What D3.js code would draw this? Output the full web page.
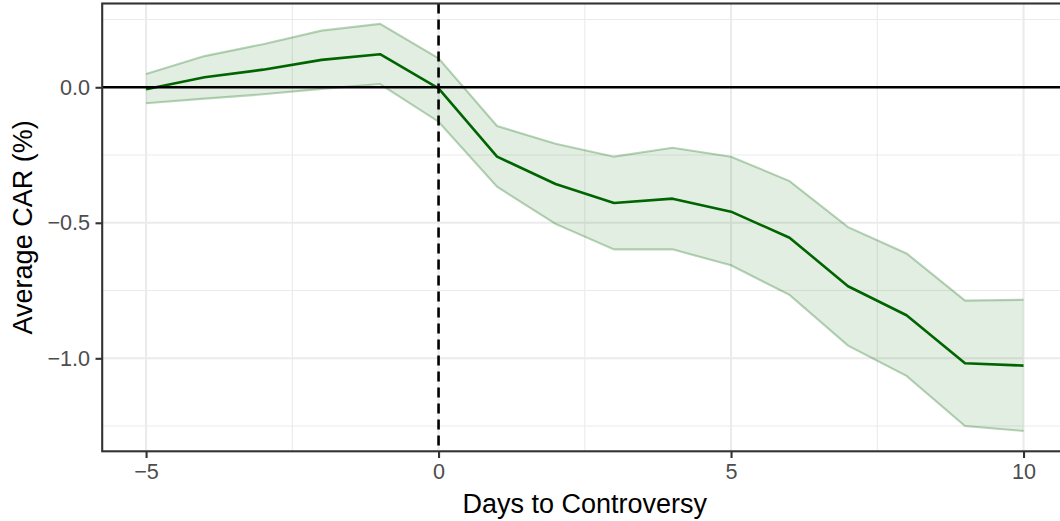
<!DOCTYPE html>
<html>
<head>
<meta charset="utf-8">
<script src="https://cdn.jsdelivr.net/npm/d3@7"></script>
<style>
  html, body { margin: 0; padding: 0; background: #ffffff; }
  svg { display: block; font-family: "Liberation Sans", Arial, sans-serif; }
</style>
</head>
<body>
<svg id="chart" width="1060" height="521"></svg>
<script>
// Event window (days relative to controversy)
const days = [-5, -4, -3, -2, -1, 0, 1, 2, 3, 4, 5, 6, 7, 8, 9, 10];
// Average cumulative abnormal return (%)
const car = [-0.007, 0.037, 0.065, 0.101, 0.122, -0.004, -0.256, -0.357, -0.427, -0.411,
             -0.459, -0.555, -0.734, -0.841, -1.018, -1.027];
// Confidence band bounds
const upper = [0.049, 0.115, 0.159, 0.209, 0.234, 0.107, -0.143, -0.208, -0.256, -0.223,
               -0.256, -0.346, -0.516, -0.613, -0.787, -0.784];
const lower = [-0.059, -0.042, -0.026, -0.006, 0.012, -0.127, -0.367, -0.504, -0.598, -0.598,
               -0.657, -0.766, -0.953, -1.065, -1.250, -1.268];

// Axis breaks
const xMajor = [-5, 0, 5, 10];
const xMinor = [-2.5, 2.5, 7.5];
const yMajor = [-1.0, -0.5, 0.0];
const yMinor = [-1.25, -0.75, -0.25, 0.25];

const xTitle = "Days to Controversy";
const yTitle = "Average CAR (%)";

const rows = days.map((d, i) => ({ day: d, car: car[i], lo: lower[i], hi: upper[i] }));

const svg = d3.select("#chart");
const panel = { left: 102.2, right: 1067.4, top: 3.5, bottom: 451.3 };

// 5% expansion on both scales
function expand(ext) {
  const pad = (ext[1] - ext[0]) * 0.05;
  return [ext[0] - pad, ext[1] + pad];
}
const x = d3.scaleLinear()
  .domain(expand(d3.extent(days)))
  .range([panel.left, panel.right]);
const y = d3.scaleLinear()
  .domain(expand([d3.min(lower), d3.max(upper)]))
  .range([panel.bottom, panel.top]);

const fmt = v => {
  const s = Number.isInteger(v) && Math.abs(v) >= 1 && yMajor.indexOf(v) < 0 ? String(v) : v.toFixed(1);
  return s.replace("-", "\u2212");
};

svg.append("defs").append("clipPath").attr("id", "clip")
  .append("rect")
  .attr("x", panel.left).attr("y", panel.top)
  .attr("width", panel.right - panel.left).attr("height", panel.bottom - panel.top);

const g = svg.append("g").attr("clip-path", "url(#clip)");

// grid
g.selectAll(".ymin").data(yMinor).join("line")
  .attr("x1", panel.left).attr("x2", panel.right)
  .attr("y1", d => y(d)).attr("y2", d => y(d))
  .attr("stroke", "#EBEBEB").attr("stroke-width", 1.1);
g.selectAll(".xmin").data(xMinor).join("line")
  .attr("y1", panel.top).attr("y2", panel.bottom)
  .attr("x1", d => x(d)).attr("x2", d => x(d))
  .attr("stroke", "#EBEBEB").attr("stroke-width", 1.1);
g.selectAll(".ymaj").data(yMajor).join("line")
  .attr("x1", panel.left).attr("x2", panel.right)
  .attr("y1", d => y(d)).attr("y2", d => y(d))
  .attr("stroke", "#EBEBEB").attr("stroke-width", 2.1);
g.selectAll(".xmaj").data(xMajor).join("line")
  .attr("y1", panel.top).attr("y2", panel.bottom)
  .attr("x1", d => x(d)).attr("x2", d => x(d))
  .attr("stroke", "#EBEBEB").attr("stroke-width", 2.1);

// confidence ribbon
g.append("path").datum(rows)
  .attr("d", d3.area().x(d => x(d.day)).y0(d => y(d.lo)).y1(d => y(d.hi)))
  .attr("fill", "#006400").attr("fill-opacity", 0.11).attr("stroke", "none");
[ "lo", "hi" ].forEach(k => {
  g.append("path").datum(rows)
    .attr("d", d3.line().x(d => x(d.day)).y(d => y(d[k])))
    .attr("fill", "none").attr("stroke", "#006400").attr("stroke-opacity", 0.28)
    .attr("stroke-width", 2.1);
});

// mean CAR line
g.append("path").datum(rows)
  .attr("d", d3.line().x(d => x(d.day)).y(d => y(d.car)))
  .attr("fill", "none").attr("stroke", "#006400").attr("stroke-width", 2.6)
  .attr("stroke-linejoin", "round");

// reference lines
g.append("line")
  .attr("x1", panel.left).attr("x2", panel.right)
  .attr("y1", y(0)).attr("y2", y(0))
  .attr("stroke", "#000").attr("stroke-width", 2.6);
g.append("line")
  .attr("x1", x(0)).attr("x2", x(0))
  .attr("y1", panel.top).attr("y2", panel.bottom)
  .attr("stroke", "#000").attr("stroke-width", 2.6)
  .attr("stroke-dasharray", "10,6");

// panel border
svg.append("rect")
  .attr("x", panel.left).attr("y", panel.top)
  .attr("width", panel.right - panel.left).attr("height", panel.bottom - panel.top)
  .attr("fill", "none").attr("stroke", "#333333").attr("stroke-width", 2.1);

// axes
const tickLen = 6.7, tickPad = 5.4;
const xAxis = svg.append("g")
  .attr("transform", `translate(0,${panel.bottom})`)
  .call(d3.axisBottom(x).tickValues(xMajor).tickSize(tickLen).tickPadding(tickPad)
        .tickFormat(d => String(d).replace("-", "\u2212")));
const yAxis = svg.append("g")
  .attr("transform", `translate(${panel.left},0)`)
  .call(d3.axisLeft(y).tickValues(yMajor).tickSize(tickLen).tickPadding(tickPad)
        .tickFormat(d => d.toFixed(1).replace("-", "\u2212")));
[xAxis, yAxis].forEach(a => {
  a.select(".domain").remove();
  a.selectAll(".tick line").attr("stroke", "#333333").attr("stroke-width", 2.1);
  a.selectAll(".tick text").attr("fill", "#4D4D4D")
    .style("font-size", "21.6px").style("font-family", "'Liberation Sans', Arial, sans-serif");
});

// titles
svg.append("text")
  .attr("x", (panel.left + panel.right) / 2).attr("y", 513)
  .attr("text-anchor", "middle").attr("fill", "#000")
  .style("font-size", "27px").text(xTitle);
svg.append("text")
  .attr("transform", `translate(31.5,${(panel.top + panel.bottom) / 2}) rotate(-90)`)
  .attr("text-anchor", "middle").attr("fill", "#000")
  .style("font-size", "27px").text(yTitle);
</script>
</body>
</html>
